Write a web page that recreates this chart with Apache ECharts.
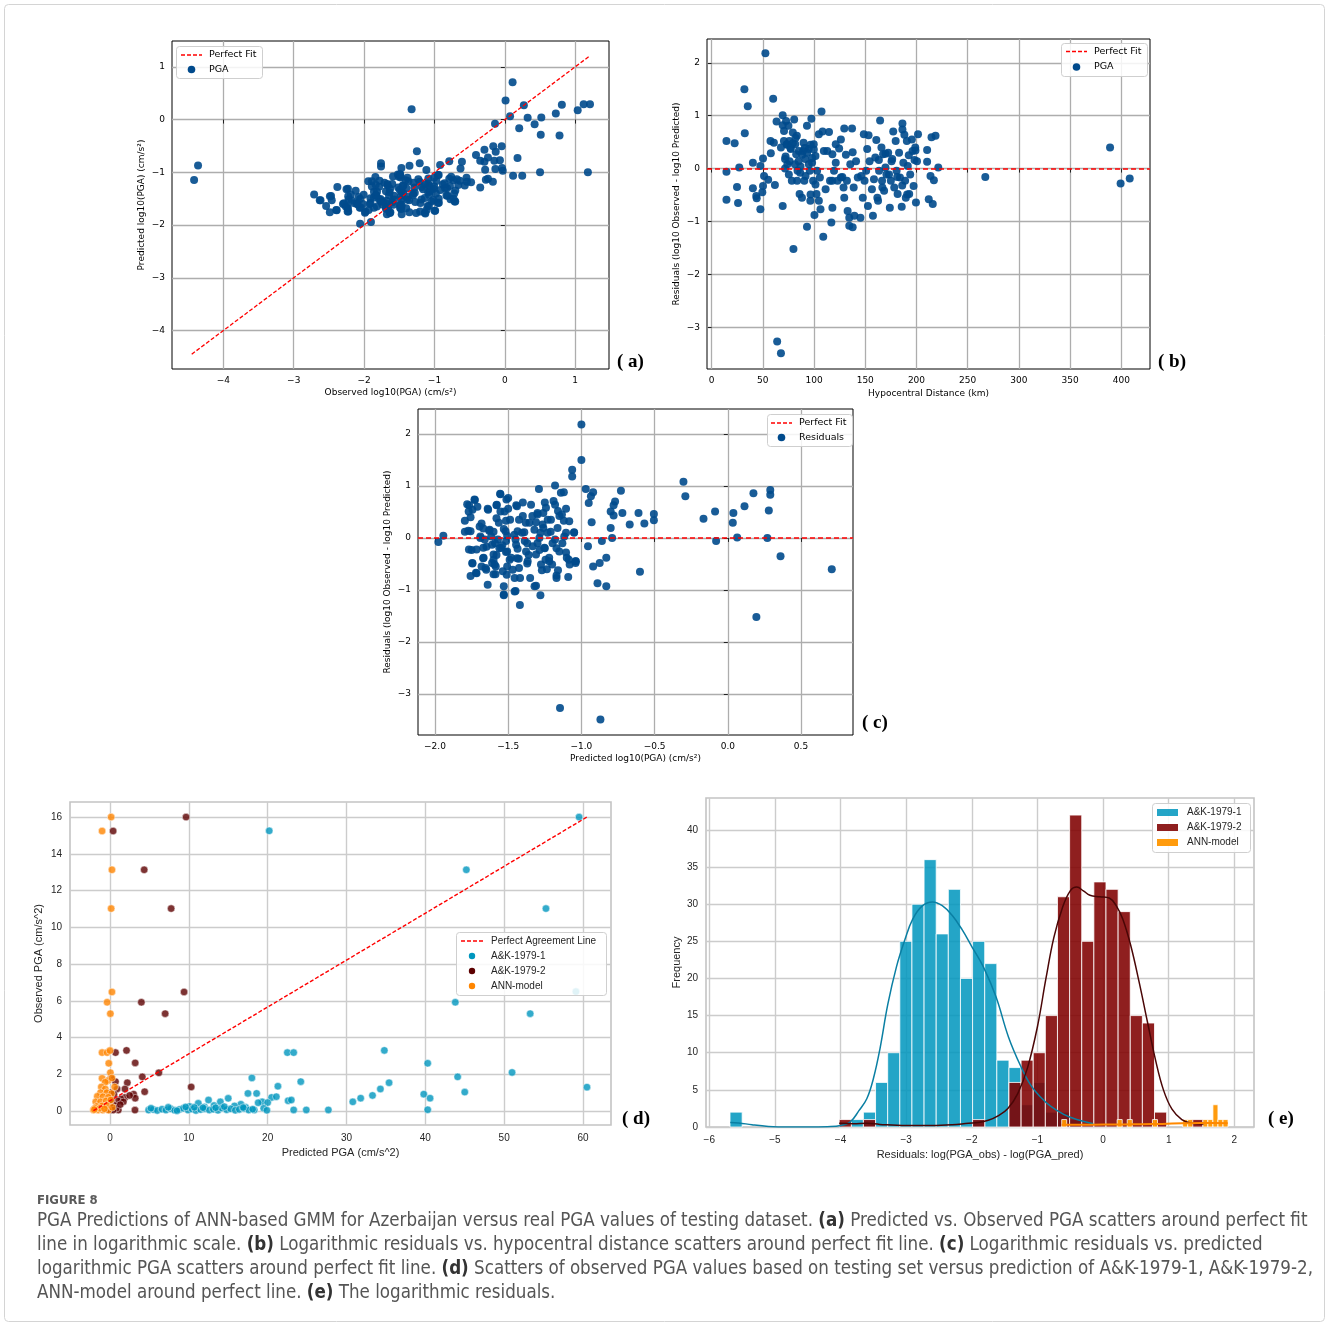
<!DOCTYPE html>
<html>
<head>
<meta charset="utf-8">
<script src="https://cdn.jsdelivr.net/npm/echarts@6.0.0/dist/echarts.min.js"></script>
<style>
html, body { margin: 0; padding: 0; background: #fff; }
#echart { width: 1328px; height: 1326px; }
</style>
</head>
<body>
<div id="echart"></div>
<script>
// ---- data ----

// (c) predicted log10(PGA) vs residual; (a) is observed = predicted + residual
var predResid = [
  [-1.977,-0.08],[-1.943,0.04],[-1.0,2.18],[-1.0,1.5],[-1.063,1.31],[-1.063,1.18],[-1.18,1.01],[-1.29,0.94],
  [-1.12,0.88],[-0.97,0.94],[-0.92,0.88],[-0.935,0.8],[-0.95,0.67],[-0.73,0.91],[-0.77,0.7],[-0.78,0.63],
  [-0.8,0.51],[-0.78,0.43],[-0.72,0.48],[-0.93,0.3],[-0.67,0.26],[-0.61,0.48],[-0.57,0.28],[-0.505,0.46],
  [-0.505,0.34],[-0.303,1.08],[-0.29,0.8],[-0.166,0.37],[-0.087,0.51],[-0.08,-0.06],[0.038,0.48],[0.034,0.29],
  [0.064,0.01],[0.114,0.61],[0.175,0.86],[0.29,0.92],[0.29,0.83],[0.28,0.53],[0.27,0.0],[0.36,-0.35],
  [0.71,-0.6],[0.195,-1.52],[-0.6,-0.65],[-0.8,0.19],[-0.79,0.0],[-0.86,-0.06],[-0.955,-0.16],[-0.83,-0.38],
  [-0.875,-0.48],[-0.92,-0.55],[-0.89,-0.87],[-0.83,-0.93],[-1.146,-3.27],[-0.87,-3.49],[-1.04,-0.48],[-1.08,-0.51],
  [-1.09,-0.75],[-1.17,-0.72],[-1.2,-0.51],[-1.32,-0.93],[-1.28,-1.1],[-1.42,-1.29],[-1.45,-1.02],[-1.53,-1.1],
  [-1.53,-0.93],[-1.64,-0.9],
  [-1.796,0.33],[-1.767,0.63],[-1.728,0.73],[-1.744,0.54],[-1.757,0.4],[-1.796,0.12],[-1.773,0.14],[-1.75,-0.23],
  [-1.716,-0.22],[-1.744,-0.49],[-1.716,-0.68],[-1.757,-0.73],[-1.682,0.28],[-1.67,0.18],[-1.69,0.03],[-1.66,-0.03],
  [-1.637,0.54],[-1.63,0.14],[-1.648,-0.17],[-1.671,-0.39],[-1.682,-0.55],[-1.65,-0.61],[-1.61,-0.48],[-1.58,0.63],
  [-1.553,0.84],[-1.553,0.51],[-1.58,0.38],[-1.6,0.12],[-1.57,-0.03],[-1.59,-0.1],[-1.56,-0.2],[-1.58,-0.33],
  [-1.6,-0.42],[-1.585,-0.55],[-1.6,-0.7],[-1.512,0.74],[-1.5,0.56],[-1.515,0.33],[-1.53,0.17],[-1.507,0.04],
  [-1.54,-0.14],[-1.515,-0.27],[-1.49,-0.42],[-1.507,-0.55],[-1.51,-0.71],[-1.53,-1.09],[-1.456,-1.03],[-1.456,-0.77],
  [-1.426,-0.58],[-1.44,-0.39],[-1.436,-0.21],[-1.45,-0.03],[-1.436,0.13],[-1.426,0.35],[-1.445,0.63],[-1.4,0.68],
  [-1.38,0.29],[-1.39,0.11],[-1.37,-0.1],[-1.36,-0.33],[-1.37,-0.49],[-1.35,-0.77],[-1.31,-0.92],[-1.335,0.42],
  [-1.31,0.3],[-1.3,0.48],[-1.25,0.68],[-1.26,0.48],[-1.26,0.19],[-1.28,0.1],[-1.3,-0.1],[-1.286,-0.23],
  [-1.25,-0.2],[-1.245,-0.42],[-1.236,-0.6],[-1.27,-0.62],[-1.22,-0.45],[-1.23,0.35],[-1.21,0.12],[-1.19,0.71],
  [-1.16,0.52],[-1.15,0.42],[-1.18,-0.03],[-1.17,-0.2],[-1.13,-0.1],[-1.105,0.1],[-1.12,0.33],[-1.14,0.87],
  [-1.105,0.56],[-1.105,-0.28],[-1.086,-0.42],[-1.05,0.11],[-1.04,-0.45],[-1.16,-0.62],[-1.17,-0.77],
  [-1.78,0.65],[-1.77,0.51],[-1.73,0.74],[-1.71,0.6],[-1.757,0.13],[-1.768,-0.22],[-1.745,-0.48],[-1.72,-0.67],
  [-1.695,0.22],[-1.69,0.0],[-1.67,-0.19],[-1.668,-0.38],[-1.655,-0.58],[-1.64,0.56],[-1.627,0.16],[-1.616,0.03],
  [-1.61,-0.13],[-1.6,-0.32],[-1.593,-0.51],[-1.587,-0.7],[-1.578,0.64],[-1.564,0.29],[-1.555,0.85],[-1.548,-0.19],
  [-1.537,-0.64],[-1.525,0.51],[-1.518,0.13],[-1.514,-0.06],[-1.507,-0.26],[-1.5,0.77],[-1.487,0.35],[-1.48,-0.38],
  [-1.469,-0.61],[-1.457,0.06],[-1.446,-0.13],[-1.44,0.61],[-1.428,-0.4],[-1.419,-0.77],[-1.405,0.1],[-1.4,0.42],
  [-1.387,-0.06],[-1.378,-0.26],[-1.367,-0.45],[-1.355,0.29],[-1.344,0.64],[-1.333,-0.16],[-1.321,0.16],[-1.31,-0.32],
  [-1.3,0.45],[-1.287,0.0],[-1.276,-0.51],[-1.265,0.26],[-1.253,-0.19],[-1.242,0.58],[-1.231,0.1],[-1.22,-0.38],
  [-1.208,0.35],[-1.197,-0.1],[-1.18,0.64],[-1.163,0.19],[-1.151,-0.26],[-1.133,0.45],[-1.117,0.03],[-1.1,-0.38],
  [-1.083,0.32],[-1.05,0.1],[-1.038,-0.45]
];

// (b) hypocentral distance (km) vs residual
var distResid = [
  [14.5,-0.06],[14.5,0.52],[14.5,-0.59],[22.5,0.48],[24.8,-0.35],[25.8,-0.65],[27,0.02],[32,1.5],[32.4,0.67],
  [35.3,1.18],[40.3,0.11],[40.3,-0.37],[43.6,-0.52],[44,-0.56],[47.6,0.05],[47.6,-0.77],[50.2,0.19],[50.2,-0.33],
  [51.2,-0.14],[49.5,-0.45],[52.5,2.18],[55.2,-0.21],[57.8,0.29],[57.5,0.52],[60.1,1.32],[60.8,0.49],[61.8,-0.31],
  [63.4,0.89],[64,-3.27],[67.7,-3.49],[67.7,0.4],[69.4,1.01],[69.4,0.82],[69.4,-0.71],[70.7,0.71],[71.7,0.18],
  [71.7,0.0],[72.7,0.9],[73.3,0.46],[74,0.08],[75,0.81],[75.9,0.52],[77.3,0.37],[78.3,-0.23],[79.3,0.68],
  [79.9,-1.52],[80.6,0.93],[81.6,0.46],[82.6,0.27],[83.2,0.62],[83.9,-0.04],[84.9,0.14],[85.9,-0.48],[86.5,-0.08],
  [88.2,-0.55],[89.2,0.33],[89.8,0.49],[90.5,-0.23],[91.5,0.18],[93.1,-1.1],[93.1,0.81],[94.8,0.37],[95.8,-0.04],
  [96.4,-0.61],[97.4,0.94],[98.1,0.11],[99.1,-0.23],[99.7,0.46],[100.4,-0.88],[101.4,0.24],[102.4,-0.48],[103,-0.04],
  [104.7,-0.61],[104.7,0.65],[105.7,-0.17],[106.3,-0.77],[107.3,1.08],[108.3,0.7],[109,-1.29],[109.6,0.33],
  [111.3,-0.39],[112.9,0.33],[114.6,0.69],[115.6,-0.23],[116.9,-1.02],[117.9,-0.74],[117.9,0.27],[119.5,-0.04],
  [121.2,0.46],[121.2,0.11],[122.9,-0.23],[124.5,0.38],[126.2,-0.17],[126.2,0.55],[128.8,-0.36],[129.5,0.76],
  [129.5,-0.55],[131.1,0.26],[132.1,-0.23],[132.8,-0.8],[134.4,-1.08],[134.4,-0.93],[135.4,0.08],[137.1,0.76],
  [137.7,0.31],[137.7,-1.11],[138.7,-0.36],[139.4,-0.89],[141,0.14],[142.7,-0.17],[145.3,-0.93],[146,-0.14],
  [147.6,-0.55],[148.6,0.65],[149.3,-0.23],[150.9,-0.04],[151.9,0.37],[152.6,-0.71],[153.2,0.63],[154.2,0.14],
  [156.5,-0.39],[157.5,-0.89],[158.5,-0.2],[159.8,0.21],[160.8,0.54],[161.8,-0.55],[162.5,-0.61],[163.5,-0.04],
  [164.5,0.91],[165.8,0.4],[166.4,-0.23],[167.4,0.27],[168.4,-0.42],[169.7,0.02],[170.7,-0.11],[172.4,0.3],
  [174,-0.74],[175,-0.23],[175.7,0.14],[177.3,0.7],[178.3,-0.36],[179.7,0.52],[180.6,-0.04],[181.6,-0.48],
  [183,0.3],[183.9,-0.17],[185.6,-0.72],[186.3,0.85],[186.3,0.74],[187.2,0.11],[188.2,0.64],[188.9,-0.23],
  [189.6,-0.55],[190.6,0.52],[191.5,0.05],[192.9,-0.48],[193.9,-0.11],[195.5,0.55],[196.2,0.33],[197.2,-0.33],
  [198.1,0.16],[198.8,0.4],[199.5,-0.64],[200.5,0.14],[201.5,0.65],[210.4,0.35],[210.4,0.13],[212,-0.58],
  [213.7,-0.14],[214.7,0.59],[215.9,-0.67],[217,-0.22],[218.6,0.62],[221.3,0.02],[267.2,-0.16],[389,0.4],
  [399.3,-0.28],[408.2,-0.19],
  [70.6,0.52],[73.8,0.45],[77,0.39],[79.3,0.48],[81.9,0.58],[85.2,0.33],[88.4,0.26],[91,0.39],[93.3,0.3],
  [96.6,0.45],[98.2,0.2],[99.8,0.36],[72.2,0.23],[76.1,0.14],[81.3,0.08],[86.8,0.04],[94.9,0.08],[75.4,-0.11],
  [83.5,-0.23],[91.7,-0.14],[101.4,-0.3],[96.6,-0.49],[117.8,-0.23],[127.6,-0.16],[163.3,0.16],[169.8,0.28],
  [176.3,0.18],[181.2,-0.16],[186.1,-0.32],[190.9,-0.49],[166.7,-0.36],[173.2,-0.11],[192.5,0.25],[199,0.34]
];

var perfectFitA = [[-4.45, -4.45], [1.21, 1.21]];

// (d) predicted vs observed PGA (cm/s^2)
var akOnePoints = [
  [59.5,16.0],[20.2,15.25],[45.2,13.13],[55.3,11.02],[59.1,6.5],[43.8,5.92],[53.3,5.3],[34.8,3.3],[22.5,3.18],
  [23.3,3.18],[40.3,2.6],[51.0,2.1],[44.1,1.86],[18.0,1.8],[24.2,1.6],[35.4,1.54],[60.5,1.3],[21.3,1.35],
  [34.3,1.2],[45.0,1.03],[17.5,0.96],[18.6,0.96],[39.8,0.92],[33.3,0.85],[20.5,0.74],[21.1,0.78],[31.8,0.7],
  [40.6,0.7],[15.0,0.69],[12.5,0.6],[22.6,0.56],[23.0,0.6],[30.8,0.5],[19.3,0.5],[20.0,0.46],[18.8,0.45],
  [14.0,0.5],[11.2,0.42],[16.6,0.37],[13.2,0.3],[15.8,0.28],[10.1,0.25],[12.0,0.22],[17.2,0.2],[19.5,0.15],
  [23.3,0.06],[24.9,0.06],[27.7,0.06],[40.3,0.07],[18.3,0.06],[19.9,0.04],
  [4.9,0.05],[5.5,0.08],[6.0,0.03],[6.6,0.1],[7.1,0.05],[7.7,0.12],[8.2,0.04],[8.8,0.09],[9.3,0.15],[9.9,0.05],
  [10.4,0.11],[10.9,0.03],[11.5,0.08],[12.0,0.13],[12.6,0.05],[13.1,0.1],[13.7,0.04],[14.2,0.16],[14.8,0.07],
  [15.3,0.12],[15.9,0.04],[16.4,0.09],[17.0,0.14],[17.6,0.05],[18.1,0.1],[5.2,0.15],[7.4,0.2],[9.6,0.22],
  [11.8,0.18],[14.5,0.24],[16.9,0.19],[8.5,0.02],[10.7,0.2],[13.4,0.18]
];
var akTwoPoints = [
  [9.65,16.0],[0.4,15.24],[4.34,13.13],[7.76,11.02],[9.4,6.48],[3.98,5.92],[7.0,5.3],[2.1,3.3],[0.7,3.18],
  [3.2,2.62],[6.2,2.08],[4.1,1.86],[0.15,1.8],[0.7,1.6],[2.2,1.54],[10.3,1.31],[1.9,1.2],[4.4,1.05],[3.0,0.92],
  [3.2,0.7],[1.9,0.74],[1.4,0.66],[1.0,0.55],[1.7,0.5],[0.3,0.4],[1.06,0.05],[3.17,0.05],[0.0,0.05],[0.9,1.2],
  [0.5,0.9],[0.2,0.6],[0.6,0.3],[0.35,0.2],[-0.2,0.1],[0.8,0.15],[1.3,0.35],[0.1,1.0],[2.5,0.85],[0.4,0.05]
];
var annPoints = [
  [0.15,16.0],[-1.0,15.24],[0.25,13.13],[0.15,11.02],[0.25,6.48],[-0.36,5.92],[0.05,5.3],[-1.0,3.18],[-0.36,3.18],
  [0.0,3.29],[-0.15,2.6],[0.05,2.09],[-1.0,1.78],[-0.25,1.66],[-0.6,1.57],[0.25,1.8],[-1.1,1.31],[0.6,1.31],
  [-0.6,1.2],[-1.2,1.0],[-0.4,1.0],[0.2,0.95],[-1.6,0.8],[-0.9,0.78],[-0.2,0.75],[-1.8,0.5],[-1.2,0.5],
  [-0.5,0.55],[0.1,0.6],[-2.1,0.05],[-1.5,0.05],[-0.9,0.05],[-0.2,0.05],[-1.7,0.25],[-1.0,0.28],[-0.4,0.3],
  [-1.3,0.15],[-0.7,0.12],[0.3,0.2],[-1.9,0.15],[-2.0,0.08]
];
var perfectLineD = [[-2.1, 0.02], [60.5, 16.0]];

// (e) residual histograms (counts per bin) and kde curves
var akBinStart = -5.684, akBinWidth = 0.1848;
var akOneCounts = [2,0,0,0,0,0,0,0,0,0, 1,2,6,10,25,30,36,26,32,20, 25,22,9,8,3,6,2,2,1,0, 0,0,0,0,0,0,0,0,0,0];
var akTwoCounts = [0,0,0,0,0,0,0,0,0,1, 0,1,0,0,0,0,0,0,0,0, 1,0,0,6,9,10,15,31,42,25, 33,32,29,15,14,2,0,0,1,0];
var annBinStart = -0.63, annBinWidth = 0.0768;
var annCounts = [1,0,0,0,0,0,0,0,0,0,0,1,0,1,0,0,0,0,1,0,0,0,0,0,1,1,0,0,1,1,3,1,1];
var akOneKde = [
  [-5.68,0.6],[-5.55,0.55],[-5.35,0.3],[-5.1,0.08],[-4.8,0.0],[-4.5,0.0],[-4.2,0.05],[-4.0,0.2],[-3.85,0.7],
  [-3.72,2.2],[-3.6,3.8],[-3.5,6.5],[-3.4,10.5],[-3.28,16.5],[-3.15,21.5],[-3.02,25.2],[-2.9,28.0],[-2.75,29.8],
  [-2.6,30.3],[-2.45,29.8],[-2.3,28.5],[-2.15,26.6],[-2.0,24.3],[-1.82,21.5],[-1.63,17.5],[-1.44,12.1],
  [-1.25,8.1],[-1.1,5.6],[-0.95,4.0],[-0.8,2.8],[-0.6,1.7],[-0.4,1.0],[-0.15,0.45]
];
var akTwoKde = [
  [-4.02,0.5],[-3.8,0.45],[-3.6,0.5],[-3.4,0.35],[-3.0,0.2],[-2.6,0.2],[-2.3,0.3],[-2.05,0.5],[-1.9,0.6],
  [-1.75,0.9],[-1.6,1.5],[-1.45,2.5],[-1.3,4.5],[-1.15,8.0],[-1.0,13.5],[-0.87,20.0],[-0.75,25.5],[-0.62,29.5],
  [-0.5,31.8],[-0.4,32.3],[-0.3,31.8],[-0.2,31.2],[-0.05,31.0],[0.1,30.8],[0.2,29.8],[0.3,28.0],[0.42,24.5],
  [0.55,19.5],[0.68,14.0],[0.8,9.0],[0.92,5.0],[1.05,2.4],[1.2,1.0],[1.35,0.5],[1.53,0.4]
];
var annKde = [[-0.63,0.3],[-0.3,0.3],[0.0,0.32],[0.3,0.35],[0.6,0.38],[0.9,0.42],[1.2,0.5],[1.5,0.55],[1.7,0.55],[1.9,0.5]];

// tick labels
var aTicks = [-4, -3, -2, -1, 0, 1];
var bTicksX = [0, 50, 100, 150, 200, 250, 300, 350, 400];
var residTicks = [-3, -2, -1, 0, 1, 2];
var cTicksX = [-2, -1.5, -1, -0.5, 0, 0.5];
var dTicksX = [0, 10, 20, 30, 40, 50, 60];
var dTicksY = [0, 2, 4, 6, 8, 10, 12, 14, 16];
var eTicksX = [-6, -5, -4, -3, -2, -1, 0, 1, 2];
var eTicksY = [0, 5, 10, 15, 20, 25, 30, 35, 40];

// ---- chart ----
var myChart = echarts.init(document.getElementById('echart'));

var MPL = 'DejaVu Sans';
var SNS = 'Liberation Sans';
var blue = '#004a8c';
var cyan = '#0096be', maroon = '#5c0000', orange = '#ff8500';
var cyanBar = 'rgba(0,150,190,0.86)', redBar = 'rgba(128,0,0,0.88)', orangeBar = 'rgba(255,150,0,0.95)';

function tickLabel(step, digits) {
  return function (v) {
    var k = Math.round(v / step);
    if (Math.abs(v - k * step) > step * 0.001) return '';
    var t = k * step;
    if (Math.abs(t) < 1e-9) t = 0;
    return t.toFixed(digits).replace('-', '\u2212');
  };
}

function axis(o) {
  var sns = o.sns;
  return {
    type: 'value', gridIndex: o.grid, min: o.min, max: o.max,
    minInterval: o.step, maxInterval: o.step,
    name: o.name, nameLocation: 'middle', nameGap: o.gap, nameRotate: o.y ? 90 : 0,
    nameTextStyle: { fontFamily: sns ? SNS : MPL, fontSize: sns ? 11 : 9, color: sns ? '#262626' : '#000' },
    axisLine: { show: false },
    axisTick: { show: !sns, length: 4, lineStyle: { color: '#000', width: 0.8 }, customValues: o.ticks },
    axisLabel: {
      customValues: o.ticks, formatter: tickLabel(o.step, o.digits || 0),
      margin: sns ? 8 : 7, fontFamily: sns ? SNS : MPL, fontSize: sns ? 10 : 9,
      color: sns ? '#262626' : '#000'
    },
    splitLine: { show: true, lineStyle: { color: sns ? '#cccccc' : '#adadad', width: sns ? 1.4 : 1.3 } }
  };
}

function histData(start, width, counts) {
  var out = [];
  counts.forEach(function (c, i) {
    if (c > 0) out.push([start + i * width, start + (i + 1) * width, c]);
  });
  return out;
}

function histSeries(name, start, width, counts, fill) {
  return {
    name: name, type: 'custom', xAxisIndex: 4, yAxisIndex: 4,
    itemStyle: { color: fill },
    encode: { x: [0, 1], y: 2 },
    renderItem: function (params, api) {
      var p0 = api.coord([api.value(0), 0]);
      var p1 = api.coord([api.value(1), api.value(2)]);
      return {
        type: 'rect',
        shape: { x: p0[0], y: p1[1], width: p1[0] - p0[0], height: p0[1] - p1[1] },
        style: { fill: fill, stroke: '#ffffff', lineWidth: 0.8 }
      };
    },
    data: histData(start, width, counts)
  };
}

// legend boxes drawn as graphics: rows of [kind, colour, label]
function legendBox(x, y, w, h, rowY, keyX, textX, rows, font, size, col) {
  var els = [{ type: 'rect', z: 100, shape: { x: x + 0.5, y: y + 0.5, width: w, height: h, r: 3 },
    style: { fill: 'rgba(255,255,255,0.85)', stroke: '#cfcfcf', lineWidth: 1 } }];
  rows.forEach(function (r, i) {
    var cy = rowY[i];
    if (r[0] === 'line') {
      els.push({ type: 'line', z: 101, shape: { x1: keyX[0], y1: cy, x2: keyX[1], y2: cy },
        style: { stroke: r[1], lineWidth: 1.4, lineDash: [4, 2] } });
    } else if (r[0] === 'dot') {
      els.push({ type: 'circle', z: 101, shape: { cx: (keyX[0] + keyX[1]) / 2, cy: cy, r: r[3] || 3.8 },
        style: { fill: r[1] } });
    } else {
      els.push({ type: 'rect', z: 101, shape: { x: keyX[0], y: cy - 3.5, width: keyX[1] - keyX[0], height: 7 },
        style: { fill: r[1] } });
    }
    els.push({ type: 'text', z: 101, x: textX, y: cy,
      style: { text: r[2], fontFamily: font, fontSize: size, fill: col, verticalAlign: 'middle' } });
  });
  return els;
}

function panelLabel(text, x, y) {
  return {
    type: 'text', x: x, y: y,
    style: { text: text, fontFamily: 'Liberation Serif', fontWeight: 'bold', fontSize: 19, fill: '#000', verticalAlign: 'middle' }
  };
}

// caption sizing: fit the first line to the printed width
var capFamily = 'DejaVu Sans Condensed';
var capLines = [
  ['PGA Predictions of ANN-based GMM for Azerbaijan versus real PGA values of testing dataset. ', '(a)', ' Predicted vs. Observed PGA scatters around perfect fit'],
  ['line in logarithmic scale. ', '(b)', ' Logarithmic residuals vs. hypocentral distance scatters around perfect fit line. ', '(c)', ' Logarithmic residuals vs. predicted'],
  ['logarithmic PGA scatters around perfect fit line. ', '(d)', ' Scatters of observed PGA values based on testing set versus prediction of A&K-1979-1, A&K-1979-2,'],
  ['ANN-model around perfect line. ', '(e)', ' The logarithmic residuals.']
];
var ctx = document.createElement('canvas').getContext('2d');
ctx.font = '100px "' + capFamily + '"';
var capSize = 100 * 1268 / ctx.measureText(capLines[0].join('')).width;

var graphics = [
  { type: 'rect', shape: { x: 4.5, y: 4.5, width: 1320, height: 1317, r: 4 }, style: { fill: 'none', stroke: '#d4d4d4', lineWidth: 1 } },
  panelLabel('( a)', 617, 362), panelLabel('( b)', 1158, 362), panelLabel('( c)', 862, 723),
  panelLabel('( d)', 622, 1119), panelLabel('( e)', 1268, 1119),
  { type: 'text', x: 37, y: 1201, style: { text: 'FIGURE 8', fontFamily: capFamily, fontWeight: 'bold', fontSize: 13, fill: '#5a5a5a', verticalAlign: 'middle' } }
];
capLines.forEach(function (parts, i) {
  var txt = parts.map(function (p, j) { return (j % 2 ? '{b|' : '{n|') + p + '}'; }).join('');
  graphics.push({
    type: 'text', x: 37, y: 1221 + i * 24,
    style: {
      text: txt, verticalAlign: 'middle',
      rich: {
        n: { fontFamily: capFamily, fontSize: capSize, fill: '#555555' },
        b: { fontFamily: capFamily, fontSize: capSize, fontWeight: 'bold', fill: '#333333' }
      }
    }
  });
});

graphics = graphics
  .concat(legendBox(176, 46, 86, 32, [55, 69.5], [181, 202], 209,
    [['line', '#ff0000', 'Perfect Fit'], ['dot', blue, 'PGA']], MPL, 9.5, '#000'))
  .concat(legendBox(1061, 43, 86, 33, [51.5, 67], [1066, 1087], 1094,
    [['line', '#ff0000', 'Perfect Fit'], ['dot', blue, 'PGA']], MPL, 9.5, '#000'))
  .concat(legendBox(767, 414, 85, 32, [423, 437.5], [771, 792], 799,
    [['line', '#ff0000', 'Perfect Fit'], ['dot', blue, 'Residuals']], MPL, 9.5, '#000'))
  .concat(legendBox(456, 932, 150, 63, [941, 956, 971, 986], [461, 483], 491,
    [['line', '#ff0000', 'Perfect Agreement Line'], ['dot', cyan, 'A&K-1979-1', 3.2],
     ['dot', maroon, 'A&K-1979-2', 3.2], ['dot', orange, 'ANN-model', 3.2]], SNS, 10, '#262626'))
  .concat(legendBox(1152, 803, 98, 49, [812.5, 827.5, 842.5], [1157, 1178], 1187,
    [['patch', cyanBar, 'A&K-1979-1'], ['patch', redBar, 'A&K-1979-2'], ['patch', orangeBar, 'ANN-model']],
    SNS, 10, '#262626'));

var option = {
  animation: false,
  grid: [
    { left: 172, top: 41, width: 437, height: 328, show: true, backgroundColor: '#fff', borderColor: '#000', borderWidth: 1 },
    { left: 707, top: 39, width: 443, height: 330, show: true, backgroundColor: '#fff', borderColor: '#000', borderWidth: 1 },
    { left: 418, top: 409, width: 435, height: 326, show: true, backgroundColor: '#fff', borderColor: '#000', borderWidth: 1 },
    { left: 70, top: 802, width: 541, height: 323, show: true, backgroundColor: '#fff', borderColor: '#c4c4c4', borderWidth: 1.6 },
    { left: 706, top: 798, width: 548, height: 329, show: true, backgroundColor: '#fff', borderColor: '#c4c4c4', borderWidth: 1.6 }
  ],
  xAxis: [
    axis({ grid: 0, min: -4.73, max: 1.48, step: 1, ticks: aTicks, name: 'Observed log10(PGA) (cm/s\u00b2)', gap: 19 }),
    axis({ grid: 1, min: -4.5, max: 428, step: 50, ticks: bTicksX, name: 'Hypocentral Distance (km)', gap: 20 }),
    axis({ grid: 2, min: -2.116, max: 0.855, step: 0.5, digits: 1, ticks: cTicksX, name: 'Predicted log10(PGA) (cm/s\u00b2)', gap: 19 }),
    axis({ grid: 3, min: -5.07, max: 63.55, step: 10, ticks: dTicksX, name: 'Predicted PGA (cm/s^2)', gap: 22, sns: true }),
    axis({ grid: 4, min: -6.05, max: 2.3, step: 1, ticks: eTicksX, name: 'Residuals: log(PGA_obs) - log(PGA_pred)', gap: 22, sns: true })
  ],
  yAxis: [
    axis({ grid: 0, min: -4.73, max: 1.49, step: 1, ticks: aTicks, name: 'Predicted log10(PGA) (cm/s\u00b2)', gap: 26, y: true }),
    axis({ grid: 1, min: -3.79, max: 2.45, step: 1, ticks: residTicks, name: 'Residuals (log10 Observed - log10 Predicted)', gap: 26, y: true }),
    axis({ grid: 2, min: -3.79, max: 2.48, step: 1, ticks: residTicks, name: 'Residuals (log10 Observed - log10 Predicted)', gap: 26, y: true }),
    axis({ grid: 3, min: -0.76, max: 16.82, step: 2, ticks: dTicksY, name: 'Observed PGA (cm/s^2)', gap: 26, y: true, sns: true }),
    axis({ grid: 4, min: 0, max: 44.3, step: 5, ticks: eTicksY, name: 'Frequency', gap: 24, y: true, sns: true })
  ],
  series: [
    // (a)
    { name: 'Perfect Fit', type: 'line', xAxisIndex: 0, yAxisIndex: 0, data: perfectFitA, symbol: 'none', z: 3,
      lineStyle: { color: '#ff0000', type: [4, 2], width: 1.3 } },
    { name: 'PGA', type: 'scatter', xAxisIndex: 0, yAxisIndex: 0, symbolSize: 8, z: 2,
      itemStyle: { color: blue, opacity: 0.9 },
      data: predResid.map(function (p) { return [p[0] + p[1], p[0]]; }) },
    // (b)
    { name: 'Perfect Fit', type: 'line', xAxisIndex: 1, yAxisIndex: 1, data: [], symbol: 'none', z: 3,
      markLine: { silent: true, symbol: ['none', 'none'], label: { show: false }, animation: false,
        lineStyle: { color: '#ff0000', type: [5, 3], width: 1.5 }, data: [{ yAxis: 0 }] } },
    { name: 'PGA', type: 'scatter', xAxisIndex: 1, yAxisIndex: 1, symbolSize: 8, z: 2,
      itemStyle: { color: blue, opacity: 0.9 }, data: distResid },
    // (c)
    { name: 'Perfect Fit', type: 'line', xAxisIndex: 2, yAxisIndex: 2, data: [], symbol: 'none', z: 3,
      markLine: { silent: true, symbol: ['none', 'none'], label: { show: false }, animation: false,
        lineStyle: { color: '#ff0000', type: [5, 3], width: 1.5 }, data: [{ yAxis: 0 }] } },
    { name: 'Residuals', type: 'scatter', xAxisIndex: 2, yAxisIndex: 2, symbolSize: 8, z: 2,
      itemStyle: { color: blue, opacity: 0.9 }, data: predResid },
    // (d)
    { name: 'Perfect Agreement Line', type: 'line', xAxisIndex: 3, yAxisIndex: 3, data: perfectLineD, symbol: 'none', z: 3,
      lineStyle: { color: '#ff0000', type: [4, 2], width: 1.4 } },
    { name: 'A&K-1979-1', type: 'scatter', xAxisIndex: 3, yAxisIndex: 3, symbolSize: 7.5, data: akOnePoints,
      itemStyle: { color: cyan, borderColor: '#fff', borderWidth: 0.6 } },
    { name: 'A&K-1979-2', type: 'scatter', xAxisIndex: 3, yAxisIndex: 3, symbolSize: 7.5, data: akTwoPoints,
      itemStyle: { color: maroon, borderColor: '#fff', borderWidth: 0.6 } },
    { name: 'ANN-model', type: 'scatter', xAxisIndex: 3, yAxisIndex: 3, symbolSize: 7.5, data: annPoints,
      itemStyle: { color: orange, borderColor: '#fff', borderWidth: 0.6 } },
    // (e)
    histSeries('A&K-1979-1 hist', akBinStart, akBinWidth, akOneCounts, cyanBar),
    histSeries('A&K-1979-2 hist', akBinStart, akBinWidth, akTwoCounts, redBar),
    histSeries('ANN-model hist', annBinStart, annBinWidth, annCounts, orangeBar),
    { name: 'kde1', type: 'line', xAxisIndex: 4, yAxisIndex: 4, data: akOneKde, symbol: 'none', smooth: 0.4, z: 4,
      lineStyle: { color: '#0a7fa3', width: 1.5 } },
    { name: 'kde2', type: 'line', xAxisIndex: 4, yAxisIndex: 4, data: akTwoKde, symbol: 'none', smooth: 0.4, z: 4,
      lineStyle: { color: '#4a0606', width: 1.5 } },
    { name: 'kde3', type: 'line', xAxisIndex: 4, yAxisIndex: 4, data: annKde, symbol: 'none', smooth: 0.4, z: 4,
      lineStyle: { color: '#ff8800', width: 2 } }
  ],
  graphic: graphics
};

myChart.setOption(option);
</script>
</body>
</html>
